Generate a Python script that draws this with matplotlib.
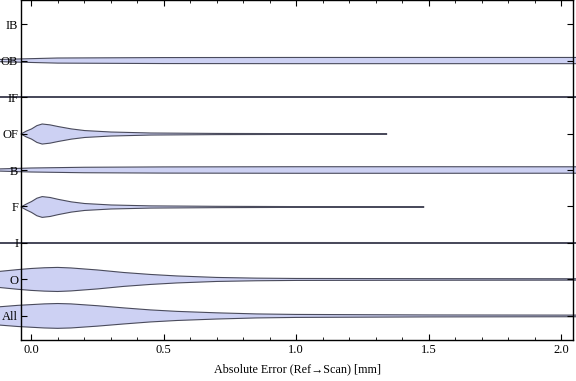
import numpy as np
import matplotlib.pyplot as plt

# Categories, bottom to top
groups = ['All', 'O', 'I', 'F', 'B', 'OF', 'IF', 'OB', 'IB']

# Violin outlines: error value [mm] and half width
# (in units of the category spacing)
all_x = [-0.12, -0.05, 0.0, 0.05, 0.1, 0.15, 0.25, 0.35, 0.45, 0.55, 0.7, 0.85, 1.0, 1.5, 2.1]
all_w = [0.25, 0.29, 0.31, 0.33, 0.34, 0.33, 0.28, 0.22, 0.165, 0.125, 0.085, 0.055, 0.041, 0.027, 0.022]

o_x = [-0.12, -0.05, 0.0, 0.05, 0.1, 0.15, 0.25, 0.35, 0.45, 0.55, 0.7, 0.85, 1.0, 1.5, 2.1]
o_w = [0.22, 0.27, 0.30, 0.32, 0.33, 0.315, 0.26, 0.19, 0.137, 0.096, 0.055, 0.036, 0.027, 0.022, 0.019]

i_x = [-0.12, 0.0, 0.5, 1.0, 1.5, 2.1]
i_w = [0.008, 0.01, 0.012, 0.012, 0.011, 0.011]

f_x = [-0.04, -0.02, 0.0, 0.02, 0.04, 0.07, 0.1, 0.15, 0.2, 0.3, 0.45, 0.7, 1.0, 1.48]
f_w = [0.0, 0.08, 0.15, 0.24, 0.285, 0.26, 0.21, 0.14, 0.095, 0.055, 0.03, 0.018, 0.011, 0.008]

b_x = [-0.12, 0.0, 0.2, 0.5, 1.0, 1.5, 2.1]
b_w = [0.03, 0.055, 0.075, 0.085, 0.09, 0.09, 0.088]

of_x = [-0.04, -0.02, 0.0, 0.02, 0.04, 0.07, 0.1, 0.15, 0.2, 0.3, 0.45, 0.7, 1.0, 1.34]
of_w = [0.0, 0.08, 0.14, 0.23, 0.275, 0.25, 0.205, 0.14, 0.095, 0.055, 0.028, 0.016, 0.011, 0.008]

if_x = [-0.12, 0.0, 0.5, 1.0, 1.5, 2.1]
if_w = [0.006, 0.008, 0.01, 0.01, 0.009, 0.009]

ob_x = [-0.12, -0.04, 0.1, 0.5, 1.0, 1.5, 2.1]
ob_w = [0.03, 0.045, 0.07, 0.082, 0.085, 0.085, 0.085]

violins = {
    'All': (all_x, all_w),
    'O': (o_x, o_w),
    'I': (i_x, i_w),
    'F': (f_x, f_w),
    'B': (b_x, b_w),
    'OF': (of_x, of_w),
    'IF': (if_x, if_w),
    'OB': (ob_x, ob_w),
}

plt.rcParams['font.family'] = ['Liberation Serif', 'DejaVu Serif']

fig = plt.figure(figsize=(5.76, 3.81), dpi=100)
ax = fig.add_axes([0.0365, 0.1076, 0.9583, 0.8924])

for k, name in enumerate(groups):
    if name not in violins:
        continue
    xs, ws = violins[name]
    xs = np.array(xs)
    ws = np.array(ws)
    y = k + 1
    ax.fill_between(xs, y - ws, y + ws, facecolor='#cdd1f3', edgecolor='#4a4b5c',
                    linewidth=0.8, clip_on=False, zorder=1)

ax.set_xlim(-0.038, 2.045)
ax.set_ylim(0.34, 9.66)
ax.set_yticks(np.arange(1, len(groups) + 1))
ax.set_yticklabels(groups, fontsize=9)
ax.set_xticks([0.0, 0.5, 1.0, 1.5, 2.0])
ax.set_xticklabels(['0.0', '0.5', '1.0', '1.5', '2.0'], fontsize=9)
ax.set_xticks(np.arange(0.0, 2.05, 0.1), minor=True)
ax.tick_params(axis='both', which='major', direction='in', length=4, width=0.8,
               top=True, right=True, pad=3)
ax.tick_params(axis='x', which='minor', direction='in', length=2.5, width=0.6, top=True)
ax.tick_params(axis='y', which='major', pad=2)
ax.yaxis.set_zorder(5)
ax.xaxis.set_zorder(5)
for sp in ax.spines.values():
    sp.set_linewidth(1.0)
    sp.set_zorder(6)

ax.set_xlabel('Absolute Error (Ref\u2192Scan) [mm]', fontsize=8.7, labelpad=5)

fig.savefig('out.png', dpi=100)
